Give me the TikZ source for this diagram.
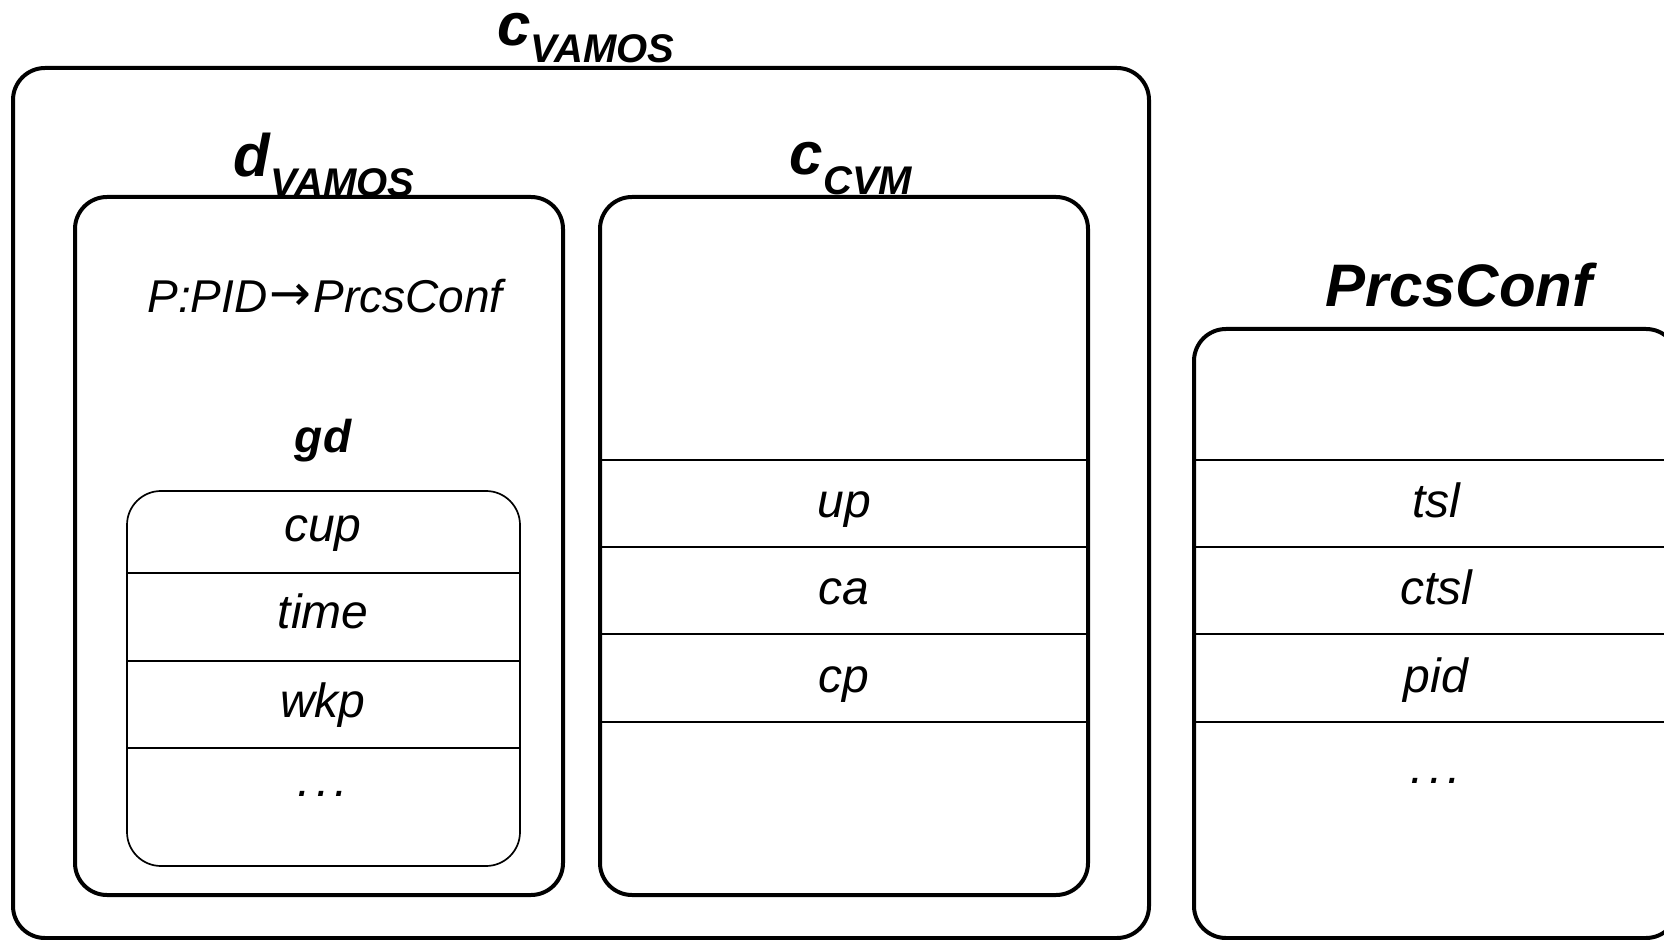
\documentclass[tikz,border=0pt]{standalone}
\usepackage{fontspec}
\setmainfont{Liberation Sans}
\newfontfamily\arrowfont{DejaVu Sans}
\newcommand{\subttl}[2][10pt]{\raisebox{-#1}{\fontsize{20pt}{22pt}\selectfont\bfseries\itshape #2}}
\newcommand{\mydots}{.\kern2.6pt.\kern2.6pt.}
\begin{document}
\begin{tikzpicture}[x=0.5pt,y=-0.5pt,
  box/.style={draw, line width=2pt, rounded corners=16pt, inner sep=0pt},
  thinbox/.style={draw, line width=0.85pt, rounded corners=17pt, inner sep=0pt},
  divider/.style={line width=0.85pt},
  lbl/.style={anchor=base, inner sep=0pt, font=\fontsize{24pt}{28pt}\selectfont\itshape},
  fn/.style={anchor=base, inner sep=0pt, font=\fontsize{23pt}{27pt}\selectfont\itshape},
  ttl/.style={anchor=base, inner sep=0pt, font=\fontsize{30pt}{34pt}\selectfont\bfseries\itshape},
  gdttl/.style={anchor=base, inner sep=0pt, font=\fontsize{23pt}{27pt}\selectfont\bfseries\itshape},
]
\useasboundingbox (0,0) rectangle (1664,940);

% boxes
\node[box, minimum width=568pt, minimum height=435pt] (outer) at (581,503) {};
\node[box, minimum width=244pt, minimum height=349pt] (dv) at (319,546) {};
\node[box, minimum width=244pt, minimum height=349pt] (cvm) at (844,546) {};
\node[box, minimum width=242pt, minimum height=304.5pt] (prcs) at (1436,633.5) {};
\node[thinbox, minimum width=196.5pt, minimum height=187.5pt] (gd) at (323.5,678.5) {};

% dividers
\foreach \yy in {573,661,748} \draw[divider] (gd.west |- 0,\yy) -- (gd.east |- 0,\yy);
\foreach \yy in {460,547,634,722} \draw[divider] (cvm.west |- 0,\yy) -- (cvm.east |- 0,\yy);
\foreach \yy in {460,547,634,722} \draw[divider] (prcs.west |- 0,\yy) -- (prcs.east |- 0,\yy);

% titles
\node[ttl] (tcv) at (586,46) {c\subttl[8.5pt]{VAMOS}};
\node[ttl] (tdv) at (324,177) {d\subttl{VAMOS}};
\node[ttl] (tcc) at (851,175) {c\subttl{CVM}};
\node[ttl] (tpc) at (1459,307) {PrcsConf};

% d_VAMOS content
\node[fn] (pmap) at (325,313) {P:PID\kern1pt{\arrowfont\fontsize{25pt}{27pt}\selectfont\raisebox{1pt}{→}}\kern1pt PrcsConf};
\node[gdttl] (tgd) at (323,453) {gd};
\node[lbl] (cup) at (323,542) {cup};
\node[lbl] (time) at (323,628) {time};
\node[lbl] (wkp) at (323,717) {wkp};
\node[lbl] (gdd) at (323,796) {\mydots};

% c_CVM content
\node[lbl] (up) at (844,517) {up};
\node[lbl] (ca) at (844,604) {ca};
\node[lbl] (cp) at (844,692) {cp};

% PrcsConf content
\node[lbl] (tsl) at (1436,517) {tsl};
\node[lbl] (ctsl) at (1436,604) {ctsl};
\node[lbl] (pid) at (1436,692) {pid};
\node[lbl] (pcd) at (1436,783) {\mydots};
\end{tikzpicture}
\end{document}
